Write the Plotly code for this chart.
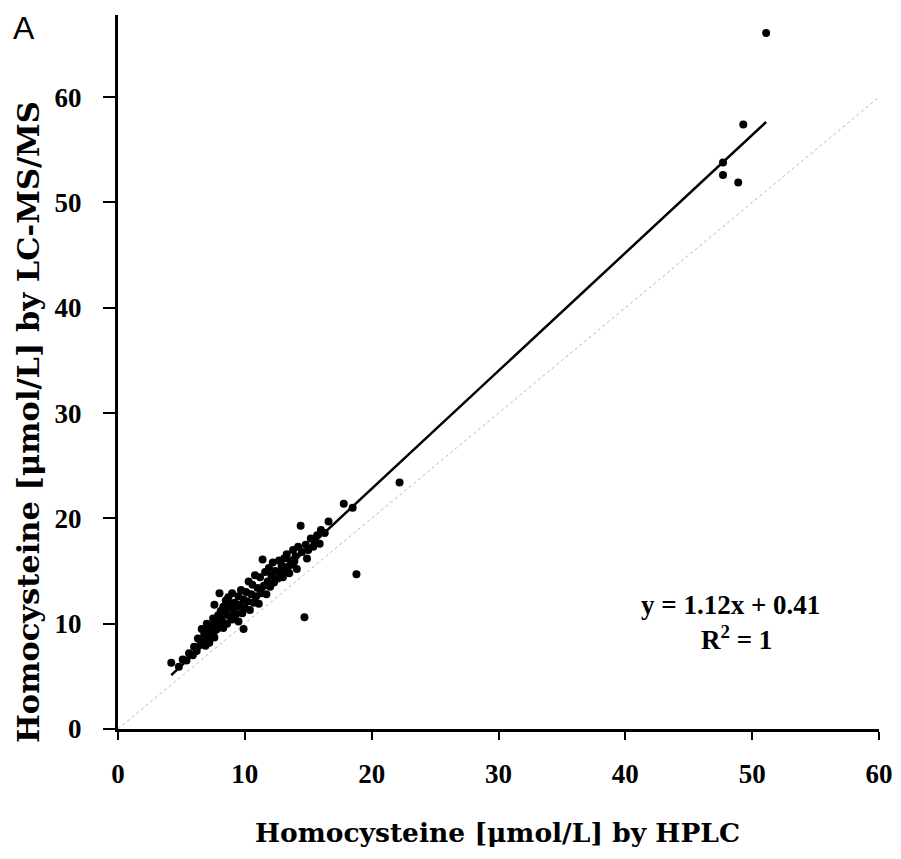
import plotly.graph_objects as go

# Data (HPLC vs LC-MS/MS homocysteine, µmol/L)
hplc = [4.2, 4.8, 5.1, 5.4, 5.6, 5.9, 6.0, 6.2, 6.3, 6.5,
        6.6, 6.7, 6.8, 6.9, 7.0, 7.0, 7.1, 7.2, 7.3, 7.4,
        7.5, 7.5, 7.6, 7.6, 7.7, 7.8, 7.9, 8.0, 8.0, 8.1,
        8.2, 8.3, 8.3, 8.4, 8.5, 8.6, 8.6, 8.7, 8.8, 8.9,
        9.0, 9.0, 9.1, 9.2, 9.3, 9.4, 9.5, 9.5, 9.6, 9.7,
        9.8, 9.9, 9.9, 10.0, 10.1, 10.2, 10.3, 10.4, 10.5, 10.6,
        10.7, 10.8, 10.9, 11.0, 11.1, 11.2, 11.3, 11.4, 11.5, 11.6,
        11.7, 11.8, 11.9, 12.0, 12.1, 12.2, 12.3, 12.4, 12.6, 12.7,
        12.8, 12.9, 13.0, 13.1, 13.2, 13.3, 13.4, 13.5, 13.6, 13.7,
        13.8, 13.9, 14.0, 14.1, 14.2, 14.4, 14.5, 14.7, 14.8, 14.9,
        15.0, 15.2, 15.4, 15.5, 15.7, 15.9, 16.0, 16.3, 16.6, 17.8,
        18.5, 18.8, 22.2, 47.7, 47.7, 48.9, 49.3, 51.1]
lcms = [6.3, 5.9, 6.6, 6.5, 7.2, 7.0, 7.8, 7.4, 8.6, 8.0,
        9.5, 8.3, 9.0, 7.9, 10.0, 8.6, 9.4, 8.2, 9.8, 8.9,
        10.5, 9.2, 11.8, 8.7, 10.1, 9.5, 10.8, 12.9, 9.8, 11.2,
        10.3, 11.6, 9.6, 10.9, 12.2, 10.0, 11.4, 12.5, 10.7, 11.9,
        12.9, 10.4, 11.3, 12.0, 10.9, 11.6, 12.6, 10.2, 11.8, 13.2,
        11.0, 9.5, 12.3, 11.5, 13.0, 12.1, 14.0, 11.3, 12.8, 13.7,
        12.0, 14.6, 12.6, 13.4, 11.9, 14.4, 12.9, 16.1, 13.6, 14.9,
        12.8, 14.0, 15.3, 13.5, 14.6, 15.8, 13.9, 15.0, 14.3, 16.0,
        14.9, 15.5, 14.4, 16.2, 15.1, 16.6, 15.4, 14.8, 16.0, 15.6,
        17.0, 15.9, 16.4, 15.2, 17.3, 19.3, 16.8, 10.6, 17.5, 16.2,
        17.0, 18.1, 17.3, 17.8, 18.4, 17.6, 18.9, 18.6, 19.7, 21.4,
        21.0, 14.7, 23.4, 53.8, 52.6, 51.9, 57.4, 66.1]

slope = 1.12
intercept = 0.41
fit_x = [min(hplc), max(hplc)]
fit_y = [slope * v + intercept for v in fit_x]
identity = [0, 60]

x_ticks = [0, 10, 20, 30, 40, 50, 60]
y_ticks = [0, 10, 20, 30, 40, 50, 60]

SERIF = "Liberation Serif, Times New Roman, serif"
WIDE = "DejaVu Serif, serif"

L, R, T, B = 118, 22, 15, 130
W, H = 901, 859
PW, PH = W - L - R, H - T - B


def px(xp):
    return (xp - L) / PW


def py(yp):
    return (H - B - yp) / PH


fig = go.Figure()
fig.add_trace(go.Scatter(x=identity, y=identity, mode="lines",
                         line=dict(color="#b8b8b8", width=1, dash="dot"),
                         hoverinfo="skip", showlegend=False))
fig.add_trace(go.Scatter(x=hplc, y=lcms, mode="markers",
                         marker=dict(color="black", size=8),
                         showlegend=False))
fig.add_trace(go.Scatter(x=fit_x, y=fit_y, mode="lines",
                         line=dict(color="black", width=2.5),
                         showlegend=False))

axis_common = dict(showgrid=False, zeroline=False, showline=True,
                   linecolor="black", linewidth=3, ticks="outside",
                   tickwidth=2, tickcolor="black", automargin=False,
                   tickfont=dict(family=SERIF, size=27, color="black", weight="bold"))

fig.update_xaxes(range=[0, 60], tickvals=x_ticks, ticklen=8, ticklabelstandoff=11, **axis_common)
fig.update_yaxes(range=[0, 67.8], tickvals=y_ticks, ticklen=12, ticklabelstandoff=16, **axis_common)

ann = dict(xref="paper", yref="paper", showarrow=False,
           xanchor="center", yanchor="middle")
fig.add_annotation(text="Homocysteine [μmol/L] by HPLC", x=px(497), y=py(832),
                   font=dict(family=WIDE, size=26.5, color="black", weight="bold"), **ann)
fig.add_annotation(text="Homocysteine [μmol/L] by LC-MS/MS", x=px(28), y=py(422),
                   textangle=-90,
                   font=dict(family=WIDE, size=30.5, color="black", weight="bold"), **ann)
fig.add_annotation(text="A", x=px(24), y=py(28),
                   font=dict(family="Liberation Sans, Arial, sans-serif", size=32, color="black"), **ann)
fig.add_annotation(text="y = 1.12x + 0.41", x=px(730), y=py(605),
                   font=dict(family=SERIF, size=27, color="black", weight="bold"), **ann)
fig.add_annotation(text="R<sup>2</sup> = 1", x=px(736), y=py(638),
                   font=dict(family=SERIF, size=27, color="black", weight="bold"), **ann)

fig.update_layout(width=W, height=H,
                  margin=dict(l=L, r=R, t=T, b=B),
                  plot_bgcolor="white", paper_bgcolor="white")

fig.write_html("out.html", config={"displayModeBar": False},
               post_script="document.body.style.margin='0';")
